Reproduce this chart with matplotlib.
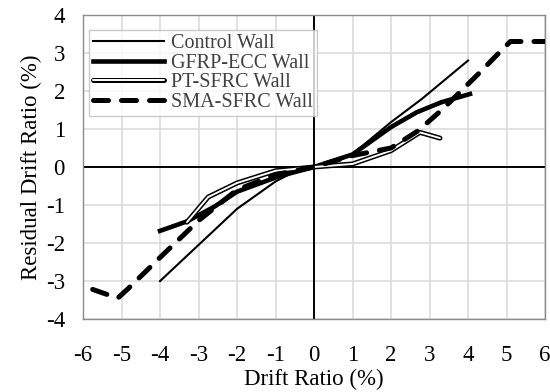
import matplotlib.pyplot as plt

plt.rcParams['font.family'] = ['Liberation Serif', 'DejaVu Serif']
plt.rcParams['axes.unicode_minus'] = False

# Residual drift vs. drift ratio for each wall (%)
control_x = [-4.0, -3.0, -2.0, -1.0, -0.5, 0.0, 0.5, 1.0, 2.0, 2.8, 4.0]
control_y = [-3.0, -2.05, -1.1, -0.38, -0.12, 0.0, 0.1, 0.34, 1.18, 1.79, 2.8]

gfrp_x = [-4.0, -3.3, -2.6, -2.0, -0.9, 0.0, 1.0, 2.0, 2.67, 3.3, 4.05]
gfrp_y = [-1.68, -1.43, -1.05, -0.65, -0.24, 0.0, 0.33, 1.05, 1.44, 1.7, 1.92]

pt_x = [-3.3, -2.75, -2.0, -1.0, 0.0, 1.0, 2.0, 2.75, 3.27]
pt_y = [-1.45, -0.79, -0.42, -0.1, 0.0, 0.08, 0.43, 0.91, 0.76]

sma_x = [-5.75, -5.1, -4.83, -4.0, -3.0, -2.0, -1.0, 0.0, 1.0, 2.0, 2.7, 3.35, 4.3, 4.85, 5.1, 6.0]
sma_y = [-3.22, -3.45, -3.2, -2.38, -1.41, -0.6, -0.2, 0.0, 0.3, 0.5, 0.95, 1.53, 2.48, 3.05, 3.3, 3.3]

fig = plt.figure(figsize=(5.5, 3.92), dpi=100)
ax = fig.add_axes([0.151, 0.186, 0.84, 0.776])

ax.plot(control_x, control_y, color='black', lw=1.5, label='Control Wall', zorder=3)
ax.plot(gfrp_x, gfrp_y, color='black', lw=3.3, label='GFRP-ECC Wall', zorder=3)
# double line: black outline with a white core
pt_outer, = ax.plot(pt_x, pt_y, color='black', lw=3.6, zorder=3,
                    solid_capstyle='round', solid_joinstyle='round')
pt_inner, = ax.plot(pt_x, pt_y, color='white', lw=1.4, zorder=3,
                    solid_capstyle='round', solid_joinstyle='round')
sma, = ax.plot(sma_x, sma_y, color='black', lw=3.6, dashes=(3.0, 2.6),
               dash_capstyle='round', label='SMA-SFRC Wall', zorder=3)

ax.axhline(0, color='black', lw=1.4, zorder=2)
ax.axvline(0, color='black', lw=1.4, zorder=2)

ax.set_xlim(-6, 6)
ax.set_ylim(-4, 4)
ax.set_xticks(range(-6, 7))
ax.set_yticks(range(-4, 5))
ax.grid(True, color='#d9d9d9', lw=1.1, zorder=0)
ax.set_axisbelow(True)
ax.tick_params(axis='x', length=0, labelsize=16.5, pad=18.5)
ax.tick_params(axis='y', length=0, labelsize=16.5, pad=13)
for s in ax.spines.values():
    s.set_color('#8c8c8c')
    s.set_linewidth(1.0)

ax.set_xlabel('Drift Ratio (%)', fontsize=16.5, labelpad=2)
ax.set_ylabel('Residual Drift Ratio (%)', fontsize=16.5, labelpad=3)

handles, labels = ax.get_legend_handles_labels()
handles = [handles[0], handles[1], (pt_outer, pt_inner), sma]
labels = ['Control Wall', 'GFRP-ECC Wall', 'PT-SFRC Wall', 'SMA-SFRC Wall']
leg = ax.legend(handles, labels, loc='upper left', bbox_to_anchor=(0.0, 0.97),
                fontsize=14.5, frameon=True, fancybox=False, edgecolor='#bfbfbf',
                handlelength=3.5, handletextpad=0.35, borderpad=0.2,
                labelspacing=0.02, borderaxespad=0.3)
leg.get_frame().set_linewidth(1.0)
leg.set_zorder(5)
for t in leg.get_texts():
    t.set_color('#404040')

fig.savefig('out.png', dpi=100)
